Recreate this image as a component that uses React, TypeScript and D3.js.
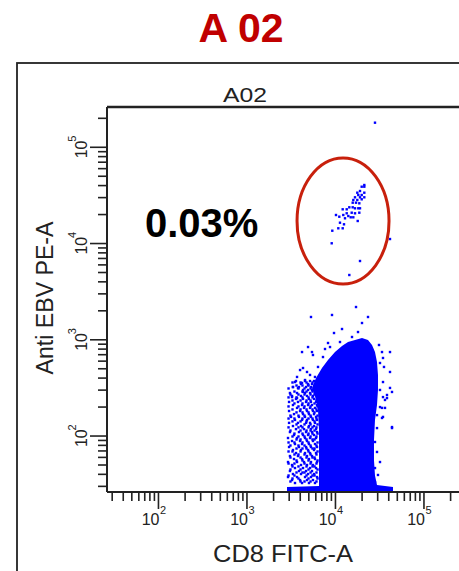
import React from "react";
import * as d3 from "d3";

// Figure text
const panelTitle = "A 02";
const plotName = "A02";
const gateFrequency = "0.03%";
const xLabel = "CD8 FITC-A";
const yLabel = "Anti EBV PE-A";

// Log display range of both channels (4 decades)
const scaleMin = 26.2144;
const scaleMax = 262144;

// Solid, saturated part of the CD8+ population: outline vertices [FITC, PE]
const coreOutline: [number, number][] = [
  [16630, 995], [19950, 1043], [23320, 995], [25880, 883], [27970, 746],
  [29470, 588], [30240, 431], [30240, 301], [29470, 210], [27970, 147],
  [27250, 91], [27250, 56], [27970, 39], [29470, 31], [44680, 29.5],
  [44680, 26.2], [2835, 26.2], [2835, 29.5], [6517, 30.3], [6517, 56],
  [6517, 116], [6350, 186], [5870, 260], [5430, 315], [6028, 401],
  [7045, 509], [8236, 617], [9881, 746], [11855, 862], [13860, 948],
];

// Sparse CD8-dim events left of the main population, grouped by PE value
const fringeRows: [number, number[]][] = [
  [373, [3580, 4530, 5160, 5720]],
  [360, [3270, 4030, 4710, 5500, 6270]],
  [347, [4080, 4900, 5430, 6030]],
  [335, [3630, 4240, 4960, 5800]],
  [323, [3310, 3870, 4650, 5290, 5870]],
  [312, [2950, 3820, 4470, 5230, 6100]],
  [301, [4300, 4900, 5570, 6190]],
  [290, [3440, 4240, 4710, 5500, 6270]],
  [280, [3060, 3680, 4530, 5160, 5870]],
  [270, [3100, 3820, 4470, 5230, 5800]],
  [261, [3230, 4080, 4770, 5570, 6190]],
  [252, [2950, 3630, 4240, 4960, 5500, 6270]],
  [243, [3580, 4300, 5020, 5720]],
  [234, [3270, 4030, 4710, 5230, 6100]],
  [226, [2990, 3770, 4650, 5290, 6030]],
  [218, [3440, 4240, 4960, 5800]],
  [210, [3310, 4190, 4900, 5430, 6190]],
  [203, [2950, 3820, 4470, 5230, 6270]],
  [196, [3680, 4410, 5160, 5870]],
  [189, [3270, 4030, 4710, 5500, 6100]],
  [182, [2990, 3980, 4770, 5570, 6190]],
  [176, [3630, 4240, 4960, 5800]],
  [169, [3400, 4300, 5020, 5720]],
  [163, [3100, 3820, 4470, 5230, 6270]],
  [158, [3150, 3870, 4530, 5290, 6030]],
  [152, [2950, 3440, 4240, 4960, 5500, 6100]],
  [147, [3490, 4190, 4770, 5570, 6190]],
  [142, [3270, 4030, 4710, 5800]],
  [137, [2990, 3770, 4650, 5160, 5870]],
  [132, [3630, 4470, 5230, 6270]],
  [127, [3310, 4080, 5020, 5720]],
  [123, [2950, 3820, 4240, 4960, 5500, 6100]],
  [118, [3580, 4410, 5290, 6030]],
  [114, [3100, 4030, 4710, 5230, 5800]],
  [110, [3060, 3870, 4650, 5430, 6190]],
  [106, [3440, 4240, 4960, 5500, 6270]],
  [102.5, [3400, 4300, 4900, 5720]],
  [98.9, [3270, 3820, 4470, 5230, 6100]],
  [95.4, [2910, 3680, 4530, 5160, 6030]],
  [92.1, [3630, 4030, 4710, 5500, 5800]],
  [88.8, [3230, 3980, 4770, 5570]],
  [85.7, [2950, 3440, 4240, 4960, 6270]],
  [82.6, [3490, 4190, 5020, 5870]],
  [79.7, [3100, 3820, 4470, 5230, 6100]],
  [76.9, [2990, 3870, 4650, 5290, 6190]],
  [74.2, [3630, 4240, 4710, 5500, 5800]],
  [71.6, [3310, 4080, 4900, 5720]],
  [69.1, [2950, 3270, 4030, 4960, 6270]],
  [66.6, [3580, 4530, 5160, 6030]],
  [64.3, [3440, 3820, 4470, 5230, 6100]],
  [62.0, [3060, 3770, 4770, 5430]],
  [59.8, [3100, 4030, 4710, 5500, 5800]],
  [57.7, [3400, 4190, 5020, 5870]],
  [55.7, [3630, 4240, 4960, 6270]],
  [53.7, [2910, 3680, 4410, 5290, 6190]],
  [51.8, [2950, 3440, 4470, 5230, 6100]],
  [50.0, [3230, 4080, 4770, 5570]],
  [48.3, [3270, 3820, 4710, 5500, 5800]],
  [46.5, [3490, 4300, 5160, 6030]],
  [44.9, [3100, 4030, 4960, 6270]],
  [43.3, [3060, 3870, 4650, 5430]],
  [41.8, [3630, 4240, 4470, 5230, 6100]],
  [40.3, [3310, 4080, 4900, 5720]],
  [38.9, [2950, 3440, 4710, 5500, 5800]],
  [37.5, [2910, 3680, 4530, 5290, 6190]],
  [36.2, [3270, 3820, 4960, 6270]],
  [34.9, [3230, 3980, 4770, 5570]],
  [33.7, [3100, 4030, 4470, 5230, 6100]],
  [32.5, [3490, 4190, 5020, 5870]],
];

// Scattered events around the top and right of the population
const strayEvents: [number, number][] = [
  [17070, 2190], [5290, 1725], [9140, 1810], [23320, 1725], [19950, 1494],
  [11860, 1294], [9630, 1176], [17980, 1204], [15380, 1069], [8240, 926],
  [11250, 948], [4900, 841], [4190, 746], [5430, 746], [5570, 695],
  [7620, 802], [8680, 841], [31040, 883], [25880, 783], [33560, 746],
  [41330, 746], [7230, 662], [34450, 647], [31860, 574], [41330, 463],
  [35350, 522], [4300, 509], [3980, 485], [4770, 463], [6350, 522],
  [5160, 431], [5870, 411], [3680, 411], [3490, 364], [4530, 382],
  [4190, 356], [3310, 323], [4900, 339], [3770, 316], [5430, 301],
  [4300, 287], [3230, 254], [3680, 248], [41330, 316], [34450, 364],
  [38220, 267], [31860, 301], [43540, 287], [43540, 124], [34450, 158],
  [33560, 196], [36280, 237], [34450, 254], [38220, 248], [31860, 200],
  [36280, 196], [29470, 165], [33560, 154], [43540, 121], [29470, 121],
  [27970, 86.7], [29470, 68.3], [31860, 53.7], [27970, 46.5], [30240, 39.4],
  [27970, 33.3], [27970, 180100], [41330, 11140],
];

// CD8+ EBV-tetramer+ events inside the gate
const gateEvents: [number, number][] = [
  [21180, 40560], [21180, 38940], [19790, 38940], [18940, 35140], [21180, 33740],
  [17650, 33740], [18110, 31930], [19790, 31930], [16630, 30220], [18940, 30220],
  [21180, 30220], [15910, 28330], [17650, 28330], [19790, 28810], [15660, 26560],
  [17070, 26560], [18600, 26180], [14340, 23790], [15660, 23790], [16630, 23230],
  [18110, 23230], [18940, 23230], [12070, 22680], [13400, 22680], [13400, 20610],
  [15260, 20910], [16630, 20610], [18600, 20910], [10140, 19790], [11050, 19000],
  [12260, 19790], [13970, 19320], [14870, 18730], [12820, 18290], [15910, 18730],
  [17840, 17150], [11250, 16460], [12490, 15840], [10770, 14400], [12070, 14400],
  [9210, 13590], [9070, 10060], [18940, 6584], [14340, 4710],
];

// Elliptical gate extents [FITC min, FITC max] x [PE min, PE max]
const gateFitc: [number, number] = [3680, 40300];
const gatePe: [number, number] = [3800, 77400];

const decadeExponents = [2, 3, 4, 5];

const BLUE = "#0000FF";
const INK = "#222222";
const FONT = "'Liberation Sans', Arial, sans-serif";

export default function App() {
  const plotLeft = 107;
  const plotRight = 461;
  const plotTop = 107;
  const plotBottom = 492;

  const x = d3.scaleLog().domain([scaleMin, scaleMax]).range([plotLeft, plotRight]);
  const y = d3.scaleLog().domain([scaleMin, scaleMax]).range([plotBottom, plotTop]);
  const px = (v: number) => x(Math.max(v, scaleMin));
  const py = (v: number) => y(Math.max(v, scaleMin));

  const events: [number, number][] = [
    ...fringeRows.flatMap(([pe, list]) => list.map((f) => [f, pe] as [number, number])),
    ...strayEvents,
    ...gateEvents,
  ];

  const corePath =
    d3
      .line<[number, number]>()
      .x((d) => px(d[0]))
      .y((d) => py(d[1]))
      .curve(d3.curveLinearClosed)(coreOutline) || "";

  const ticks = x.ticks();
  const isMajor = (t: number) => Math.abs(Math.log10(t) - Math.round(Math.log10(t))) < 1e-9;

  const gx0 = x(gateFitc[0]);
  const gx1 = x(gateFitc[1]);
  const gy0 = y(gatePe[1]);
  const gy1 = y(gatePe[0]);

  const dot = 2.4;

  return (
    <svg
      width={459}
      height={571}
      style={{ position: "absolute", left: 0, top: 0, background: "#fff" }}
      fontFamily={FONT}
    >
      <rect x={0} y={0} width={459} height={571} fill="#fff" />

      {/* panel title */}
      <text x={241} y={42} textAnchor="middle" fontSize={41} fontWeight="bold" fill="#C00000">
        {panelTitle}
      </text>

      {/* outer plot window frame */}
      <rect x={17} y={63} width={520} height={560} fill="none" stroke={INK} strokeWidth={1.8} />

      {/* plot name */}
      <text x={245} y={102} textAnchor="middle" fontSize={21} fill={INK} textLength={44} lengthAdjust="spacingAndGlyphs">
        {plotName}
      </text>

      {/* population */}
      <path d={corePath} fill={BLUE} />
      {events.map(([f, p], i) => (
        <rect key={i} x={px(f) - dot / 2} y={py(p) - dot / 2} width={dot} height={dot} fill={BLUE} />
      ))}

      {/* gate */}
      <ellipse
        cx={(gx0 + gx1) / 2}
        cy={(gy0 + gy1) / 2}
        rx={(gx1 - gx0) / 2}
        ry={(gy1 - gy0) / 2}
        fill="none"
        stroke="#C8200C"
        strokeWidth={3}
      />
      <text x={145} y={237} fontSize={40} fontWeight="bold" fill="#000">
        {gateFrequency}
      </text>

      {/* plot box */}
      <line x1={plotLeft} x2={plotRight} y1={plotTop} y2={plotTop} stroke={INK} strokeWidth={2.4} />
      <line x1={plotLeft} x2={plotRight} y1={plotBottom} y2={plotBottom} stroke={INK} strokeWidth={2} />
      <line x1={plotLeft} x2={plotLeft} y1={plotTop} y2={plotBottom} stroke={INK} strokeWidth={2} />

      {/* x axis ticks */}
      {ticks.map((t, i) => (
        <line
          key={`xt${i}`}
          x1={x(t)}
          x2={x(t)}
          y1={plotBottom}
          y2={plotBottom + (isMajor(t) ? 17 : 9)}
          stroke={INK}
          strokeWidth={1.6}
        />
      ))}
      {/* y axis ticks */}
      {ticks.map((t, i) => (
        <line
          key={`yt${i}`}
          x1={plotLeft}
          x2={plotLeft - (isMajor(t) ? 17 : 9)}
          y1={y(t)}
          y2={y(t)}
          stroke={INK}
          strokeWidth={1.6}
        />
      ))}

      {/* x decade labels */}
      {decadeExponents.map((e) => {
        const tx = x(Math.pow(10, e));
        return (
          <g key={`xl${e}`} fill={INK}>
            <text x={tx + 1} y={525} textAnchor="end" fontSize={16}>
              10
            </text>
            <text x={tx + 1.5} y={514} fontSize={11}>
              {e}
            </text>
          </g>
        );
      })}

      {/* y decade labels */}
      {decadeExponents.map((e) => {
        const ty = y(Math.pow(10, e));
        return (
          <g key={`yl${e}`} transform={`translate(87,${ty}) rotate(-90)`} fill={INK}>
            <text x={-11} y={0} fontSize={16}>
              10
            </text>
            <text x={5.5} y={-11.5} fontSize={11}>
              {e}
            </text>
          </g>
        );
      })}

      {/* axis titles */}
      <text x={283} y={562} textAnchor="middle" fontSize={23} fill={INK} textLength={140} lengthAdjust="spacingAndGlyphs">
        {xLabel}
      </text>
      <text
        transform="translate(53,298) rotate(-90)"
        textAnchor="middle"
        fontSize={23}
        fill={INK}
        textLength={153}
        lengthAdjust="spacingAndGlyphs"
      >
        {yLabel}
      </text>
    </svg>
  );
}
